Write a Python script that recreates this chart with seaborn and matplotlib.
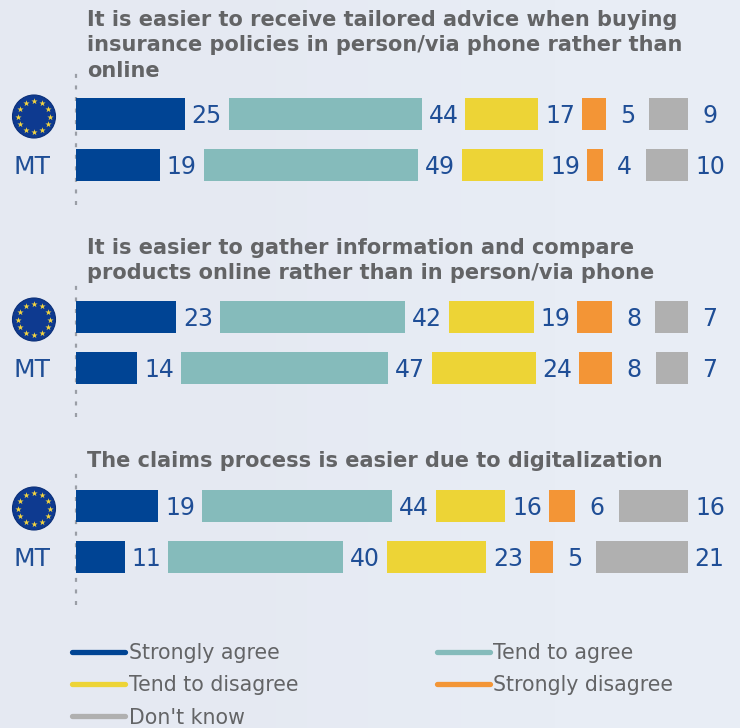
# Insurance survey chart, EU vs MT
import numpy as np
import pandas as pd
import seaborn as sb
from matplotlib import pyplot as plt
from matplotlib.lines import Line2D
from matplotlib.patches import Circle

rows = ['EU', 'MT']
responses = ['Strongly agree', 'Tend to agree', 'Tend to disagree', 'Strongly disagree', "Don't know"]
colors = ['#004494', '#85BBBB', '#EDD436', '#F39536', '#B0B0B0']

title1 = 'It is easier to receive tailored advice when buying\ninsurance policies in person/via phone rather than\nonline'
title2 = 'It is easier to gather information and compare\nproducts online rather than in person/via phone'
title3 = 'The claims process is easier due to digitalization'

# values, labels are these rounded
q1_eu = [24.9, 44.2, 16.7, 5.4, 8.9]
q1_mt = [19.2, 49.1, 18.6, 3.6, 9.6]
q2_eu = [22.9, 42.4, 19.4, 7.9, 7.4]
q2_mt = [14.0, 47.4, 23.8, 7.5, 7.3]
q3_eu = [18.8, 43.6, 15.8, 6.1, 15.8]
q3_mt = [11.1, 40.0, 22.8, 5.2, 20.9]

grey = '#636466'
blue_text = '#1F4E96'
W, H = 740, 728
x0, x1 = 76, 740
unit = 4.37   # px per percentage point
step = 10     # empty space between segments, same units
row_px = 51

sb.set_style('white')
plt.rcParams['font.family'] = ['DejaVu Sans']

fig = plt.figure(figsize=(W / 100, H / 100), dpi=100, facecolor='#E6EBF3')

# very light left to right shading behind everything
back = fig.add_axes([0, 0, 1, 1], zorder=-1)
back.imshow(np.array([[[229, 233, 242], [232, 237, 245]]], dtype=np.uint8),
            aspect='auto', interpolation='bilinear')
back.axis('off')

# overlay in pixel coordinates for titles and flags
over = fig.add_axes([0, 0, 1, 1], zorder=5)
over.set_xlim(0, W)
over.set_ylim(H, 0)
over.axis('off')


def draw_flag(cx, cy):
    over.add_patch(Circle((cx, cy), 21.5, fc='#0E3A90', ec='#0B2F78', lw=0.8))
    ang = np.arange(12) * np.pi / 6
    over.scatter(cx + 16 * np.sin(ang), cy - 15.5 * np.cos(ang), marker='*', s=22,
                 color='#F5D53F', linewidths=0, zorder=3)


def draw_panel(eu, mt, title, title_y, top, bottom, first_row):
    pos = [x0 / W, 1 - bottom / H, (x1 - x0) / W, (bottom - top) / H]
    ax = fig.add_axes(pos, facecolor='none')
    table = np.array([eu, mt])
    left = np.zeros(2)
    for i, resp in enumerate(responses):
        df = pd.DataFrame({'row': rows, 'value': table[:, i]})
        sb.barplot(data=df, y='row', x='value', order=rows, color=colors[i], saturation=1,
                   width=0.63, errorbar=None, left=left, linewidth=0, ax=ax)
        for r in range(2):
            end = left[r] + table[r, i]
            ax.text(end + step / 2, r + 0.03, f'{table[r, i]:.0f}', ha='center', va='center',
                    color=blue_text, fontsize=17)
        left = left + table[:, i] + step
    ax.set_xlim(0, (x1 - x0) / unit)
    ax.set_ylim((bottom - first_row) / row_px, (top - first_row) / row_px)
    ax.set_xlabel('')
    ax.set_ylabel('')
    ax.set_xticks([])
    ax.set_yticks([0, 1], ['', 'MT'])
    ax.tick_params(axis='y', length=0, pad=18, labelsize=18, labelcolor=blue_text)
    for s in ['top', 'right', 'bottom']:
        ax.spines[s].set_visible(False)
    ax.spines['left'].set_color('#9A9EA6')
    ax.spines['left'].set_linewidth(1.6)
    ax.spines['left'].set_capstyle('butt')
    ax.spines['left'].set_linestyle((0, (1.8, 3.4)))
    ax.spines['left'].set_zorder(0.5)
    over.text(87, title_y, title, color=grey, fontsize=15, fontweight='bold',
              va='top', ha='left', linespacing=1.33)
    draw_flag(34, first_row + 2.5)


draw_panel(q1_eu, q1_mt, title1, 10, 70, 205, 114)
draw_panel(q2_eu, q2_mt, title2, 238, 282, 417, 317)
draw_panel(q3_eu, q3_mt, title3, 451, 470, 605, 506)

# legend fills by column, so this order gives the row order of the original
order = [0, 2, 4, 1, 3]
handles = [Line2D([], [], color=colors[i], lw=3.8, solid_capstyle='round') for i in order]
labels = [responses[i] for i in order]
fig.legend(handles, labels, ncol=2, loc='upper left', bbox_to_anchor=(72 / W, 1 - 643 / H),
           frameon=False, fontsize=14.8, labelcolor=grey, handlelength=2.6, handletextpad=0.15,
           columnspacing=6.75, labelspacing=0.6, borderpad=0, borderaxespad=0)

fig.savefig('out.png', dpi=100, facecolor=fig.get_facecolor())
